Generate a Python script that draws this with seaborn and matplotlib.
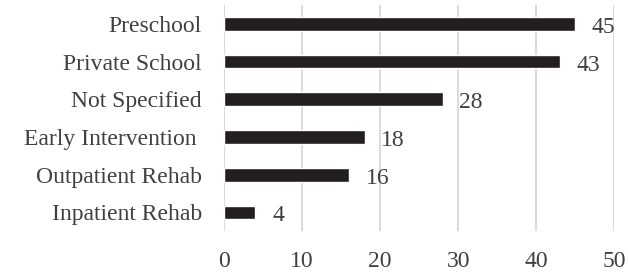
import matplotlib
matplotlib.use("Agg")
import matplotlib.pyplot as plt
import seaborn as sns
import pandas as pd

categories = ["Preschool", "Private School", "Not Specified", "Early Intervention ",
              "Outpatient Rehab", "Inpatient Rehab"]
counts = [45, 43, 28, 18, 16, 4]
x_ticks = [0, 10, 20, 30, 40, 50]

sns.set_theme(style="white")
plt.rcParams["font.family"] = ["Liberation Serif", "DejaVu Serif"]

BAR = "#231f20"
TEXT = "#404040"
GRID = "#d4d4d4"

df = pd.DataFrame({"category": categories, "count": counts})

fig = plt.figure(figsize=(6.28, 2.77), dpi=100)
ax = fig.add_axes([0.357, 0.165, 0.621, 0.817])
sns.barplot(data=df, x="count", y="category", color=BAR, width=0.36,
            saturation=1, ax=ax, zorder=3)

# value labels, a touch below bar centre like the original
for bar, v in zip(ax.patches, counts):
    ax.annotate(f"{v}", (bar.get_width(), bar.get_y() + bar.get_height() / 2),
                xytext=(12, -2.5), textcoords="offset points",
                ha="left", va="center", fontsize=17, color=TEXT)

ax.set_xlim(0, 50)
ax.set_ylim(5.5, -0.5)
ax.set_xticks(x_ticks)
ax.xaxis.grid(True, color=GRID, linewidth=1.2, zorder=0)
ax.set_axisbelow(True)
for s in ax.spines.values():
    s.set_visible(False)
ax.set_xlabel("")
ax.set_ylabel("")
ax.tick_params(axis="y", length=0, pad=16, labelsize=17, labelcolor=TEXT)
ax.tick_params(axis="x", length=0, pad=14, labelsize=17, labelcolor=TEXT)

fig.savefig("out.png", dpi=100)
